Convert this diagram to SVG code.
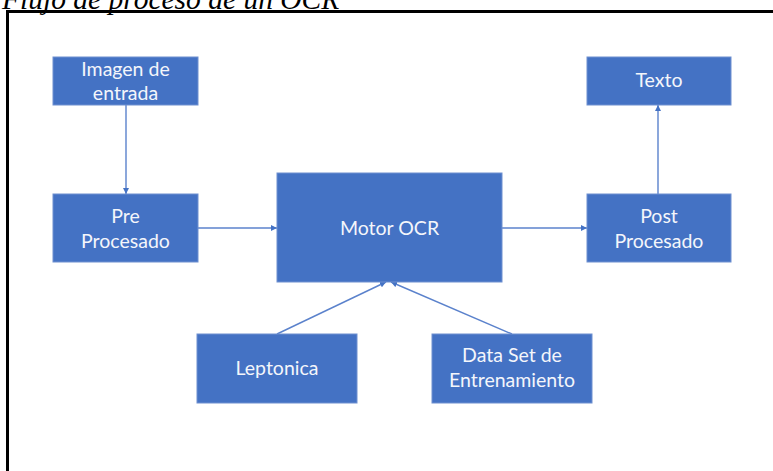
<svg xmlns="http://www.w3.org/2000/svg" width="773" height="471" viewBox="0 0 773 471">
  <defs>
    <marker id="arrow" viewBox="0 0 10 10" refX="10" refY="5" markerWidth="6" markerHeight="6" orient="auto" markerUnits="userSpaceOnUse">
      <path d="M0,0 L10,5 L0,10 z" fill="#4472C4"/>
    </marker>
  </defs>
  <style>
    .box { fill: #4472C4; stroke: #6e90d0; stroke-width: 1; }
    .lbl { font-family: Lato, "Open Sans", "Liberation Sans", sans-serif; font-size: 19.5px; fill: #f4f6fb; text-anchor: middle; }
    .edge { stroke: #5b82cc; stroke-width: 1.4; fill: none; marker-end: url(#arrow); }
    .title { font-family: "Liberation Serif", serif; font-style: italic; font-size: 29.5px; fill: #000000; }
  </style>
  <rect width="773" height="471" fill="#ffffff"/>
  <text class="title" x="2" y="9">Flujo de proceso de un OCR</text>
  <!-- outer frame, runs past the right and bottom edges -->
  <rect x="7.5" y="11.5" width="780" height="480" fill="none" stroke="#000000" stroke-width="3"/>

  <g id="connectors">
    <line class="edge" x1="126" y1="105" x2="126" y2="194"/>
    <line class="edge" x1="198" y1="228" x2="277" y2="228"/>
    <line class="edge" x1="502" y1="228" x2="587" y2="228"/>
    <line class="edge" x1="658" y1="194" x2="658" y2="105"/>
    <line class="edge" x1="277" y1="334" x2="386" y2="282"/>
    <line class="edge" x1="512" y1="334" x2="391" y2="282"/>
  </g>

  <g id="imagen">
    <rect class="box" x="53" y="57" width="145" height="48"/>
    <text class="lbl" x="125.5" y="76">Imagen de</text>
    <text class="lbl" x="125.5" y="100">entrada</text>
  </g>
  <g id="pre">
    <rect class="box" x="53" y="194" width="145" height="68"/>
    <text class="lbl" x="125.5" y="223">Pre</text>
    <text class="lbl" x="125.5" y="248">Procesado</text>
  </g>
  <g id="motor">
    <rect class="box" x="277" y="173" width="225" height="109"/>
    <text class="lbl" x="389.5" y="235">Motor OCR</text>
  </g>
  <g id="post">
    <rect class="box" x="587" y="194" width="144" height="68"/>
    <text class="lbl" x="659" y="223">Post</text>
    <text class="lbl" x="659" y="248">Procesado</text>
  </g>
  <g id="texto">
    <rect class="box" x="587" y="57" width="144" height="48"/>
    <text class="lbl" x="659" y="87">Texto</text>
  </g>
  <g id="leptonica">
    <rect class="box" x="197" y="334" width="160" height="69"/>
    <text class="lbl" x="277" y="375">Leptonica</text>
  </g>
  <g id="dataset">
    <rect class="box" x="432" y="334" width="160" height="69"/>
    <text class="lbl" x="512" y="362">Data Set de</text>
    <text class="lbl" x="512" y="387">Entrenamiento</text>
  </g>
</svg>
